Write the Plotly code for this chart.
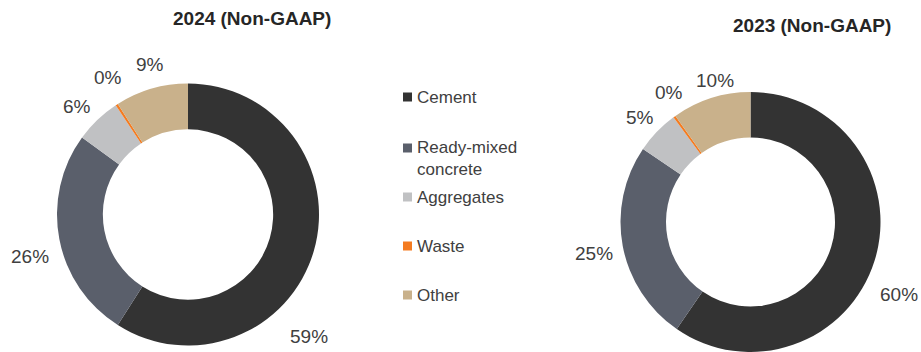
import plotly.graph_objects as go

# Revenue mix by segment (share of total, %)
segments = ["Cement", "Ready-mixed concrete", "Aggregates", "Waste", "Other"]
legend_names = ["Cement", "Ready-mixed<br>concrete", "Aggregates", "Waste", "Other"]
share_2024 = [59.0, 26.0, 5.7, 0.3, 9.0]
share_2023 = [59.6, 24.9, 5.4, 0.3, 9.8]
titles = ["2024 (Non-GAAP)", "2023 (Non-GAAP)"]

colors = ["#333333", "#5a5f6b", "#c0c1c3", "#f47b20", "#c9b18b"]

W, H = 921, 352


def px(x):
    return x / W


def py(y):
    return 1 - y / H


# donut placement (pixel boxes: left, right, top, bottom)
boxes = [(57, 319, 83, 346), (619, 882, 92, 352)]
# label anchor points for each slice (pixels)
label_pos = [
    [(309, 336), (30, 256), (77, 106), (108, 78), (150, 64)],
    [(899, 294), (594, 253), (640, 117), (669, 93), (715, 80)],
]
title_pos = [(252, 18), (812, 26)]

fig = go.Figure()
annotations = []
for shares, box, lpos, title, tpos in zip(
    [share_2024, share_2023], boxes, label_pos, titles, title_pos
):
    l, r, t, b = box
    fig.add_trace(
        go.Pie(
            labels=segments,
            values=shares,
            hole=0.65,
            sort=False,
            direction="clockwise",
            rotation=0,
            marker=dict(colors=colors, line=dict(width=0)),
            textinfo="none",
            showlegend=False,
            domain=dict(x=[px(l), px(r)], y=[max(0, py(b)), py(t)]),
        )
    )
    for v, (x, y) in zip(shares, lpos):
        annotations.append(
            dict(
                x=px(x), y=py(y), xref="paper", yref="paper",
                text=f"{v:.0f}%", showarrow=False,
                xanchor="center", yanchor="middle",
                font=dict(family="Liberation Sans, Arial", size=19, color="#404040"),
            )
        )
    annotations.append(
        dict(
            x=px(tpos[0]), y=py(tpos[1]), xref="paper", yref="paper",
            text=f"<b>{title}</b>", showarrow=False,
            xanchor="center", yanchor="middle",
            font=dict(family="Liberation Sans, Arial", size=19, color="#262626"),
        )
    )

# hand-built legend in the middle column
legend_y = [97, 158, 197, 246, 295]
shapes = []
for name, col, y in zip(legend_names, colors, legend_y):
    sy = y if "<br>" not in name else y - 10
    shapes.append(
        dict(
            type="rect", xref="paper", yref="paper",
            x0=px(403), x1=px(412), y0=py(sy + 4.5), y1=py(sy - 4.5),
            fillcolor=col, line=dict(width=0),
        )
    )
    annotations.append(
        dict(
            x=px(415), y=py(y), xref="paper", yref="paper",
            text=name, showarrow=False, align="left",
            xanchor="left", yanchor="middle",
            font=dict(family="Liberation Sans, Arial", size=17, color="#404040"),
        )
    )

fig.update_layout(
    width=W, height=H,
    margin=dict(l=0, r=0, t=0, b=0),
    paper_bgcolor="white",
    plot_bgcolor="white",
    annotations=annotations,
    shapes=shapes,
)

fig.write_html("out.html")
